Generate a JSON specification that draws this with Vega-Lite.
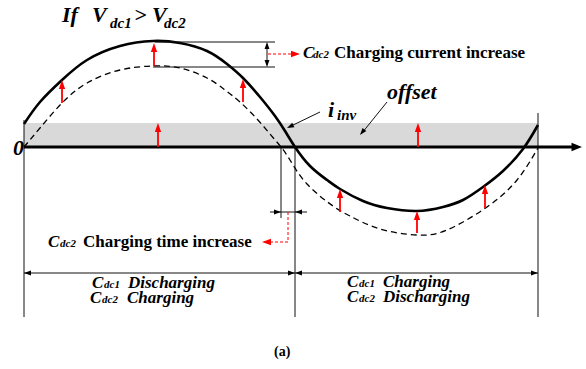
{
  "$schema": "https://vega.github.io/schema/vega-lite/v6.json",
  "width": 586,
  "height": 369,
  "padding": 0,
  "autosize": {"type": "none"},
  "background": "white",
  "config": {"view": {"stroke": null}},
  "datasets": {
    "band": [{"x": 0, "x2": 514, "y": 0, "y2": 24}],
    "curves": [
      {"curve": "ref", "x": 0, "y": 0}, {"curve": "ref", "x": 16, "y": 19}, {"curve": "ref", "x": 38, "y": 44}, {"curve": "ref", "x": 63, "y": 64},
      {"curve": "ref", "x": 96, "y": 77}, {"curve": "ref", "x": 129, "y": 81}, {"curve": "ref", "x": 156, "y": 79}, {"curve": "ref", "x": 183, "y": 69},
      {"curve": "ref", "x": 201, "y": 57}, {"curve": "ref", "x": 216, "y": 45}, {"curve": "ref", "x": 233, "y": 28}, {"curve": "ref", "x": 246, "y": 13},
      {"curve": "ref", "x": 257, "y": 0}, {"curve": "ref", "x": 266, "y": -13}, {"curve": "ref", "x": 283, "y": -37}, {"curve": "ref", "x": 309, "y": -59},
      {"curve": "ref", "x": 326, "y": -69}, {"curve": "ref", "x": 356, "y": -82}, {"curve": "ref", "x": 393, "y": -88}, {"curve": "ref", "x": 423, "y": -83},
      {"curve": "ref", "x": 463, "y": -60}, {"curve": "ref", "x": 493, "y": -33}, {"curve": "ref", "x": 514, "y": -1},
      {"curve": "iinv", "x": 0, "y": 23}, {"curve": "iinv", "x": 16, "y": 45}, {"curve": "iinv", "x": 38, "y": 67}, {"curve": "iinv", "x": 63, "y": 87},
      {"curve": "iinv", "x": 96, "y": 101}, {"curve": "iinv", "x": 129, "y": 106}, {"curve": "iinv", "x": 156, "y": 104}, {"curve": "iinv", "x": 183, "y": 96},
      {"curve": "iinv", "x": 203, "y": 83}, {"curve": "iinv", "x": 219, "y": 69}, {"curve": "iinv", "x": 236, "y": 50}, {"curve": "iinv", "x": 251, "y": 31},
      {"curve": "iinv", "x": 261, "y": 16}, {"curve": "iinv", "x": 271, "y": 0}, {"curve": "iinv", "x": 286, "y": -19}, {"curve": "iinv", "x": 303, "y": -33},
      {"curve": "iinv", "x": 316, "y": -42}, {"curve": "iinv", "x": 339, "y": -54}, {"curve": "iinv", "x": 363, "y": -61}, {"curve": "iinv", "x": 393, "y": -64},
      {"curve": "iinv", "x": 419, "y": -60}, {"curve": "iinv", "x": 439, "y": -53}, {"curve": "iinv", "x": 459, "y": -40}, {"curve": "iinv", "x": 479, "y": -24},
      {"curve": "iinv", "x": 499, "y": -2}, {"curve": "iinv", "x": 514, "y": 22}
    ],
    "segs": [
      {"k": "thin", "x": 0, "y": 27, "x2": 0, "y2": -170},
      {"k": "thin", "x": 257, "y": 0, "x2": 257, "y2": -71},
      {"k": "thin", "x": 271, "y": 0, "x2": 271, "y2": -170},
      {"k": "thin", "x": 514, "y": 34, "x2": 514, "y2": -170},
      {"k": "thin", "x": 131, "y": 105, "x2": 251, "y2": 105},
      {"k": "thin", "x": 129, "y": 80, "x2": 251, "y2": 80},
      {"k": "thin", "x": 243, "y": 103, "x2": 243, "y2": 82},
      {"k": "thin", "x": 0, "y": -126, "x2": 271, "y2": -126},
      {"k": "thin", "x": 271, "y": -126, "x2": 514, "y2": -126},
      {"k": "thin", "x": 246, "y": -65, "x2": 283, "y2": -65},
      {"k": "thin", "x": 296, "y": 35, "x2": 265, "y2": 20},
      {"k": "thin", "x": 363, "y": 45, "x2": 338, "y2": 14},
      {"k": "axis", "x": 0, "y": 0, "x2": 552, "y2": 0},
      {"k": "red", "x": 38, "y": 44, "x2": 38, "y2": 62},
      {"k": "red", "x": 130, "y": 81, "x2": 130, "y2": 99},
      {"k": "red", "x": 219, "y": 45, "x2": 219, "y2": 63},
      {"k": "red", "x": 316, "y": -65, "x2": 316, "y2": -47},
      {"k": "red", "x": 393, "y": -86, "x2": 393, "y2": -69},
      {"k": "red", "x": 461, "y": -61, "x2": 461, "y2": -43},
      {"k": "red", "x": 134, "y": 0, "x2": 134, "y2": 19},
      {"k": "red", "x": 394, "y": 0, "x2": 394, "y2": 19},
      {"k": "reddash", "x": 244, "y": 93, "x2": 272, "y2": 93},
      {"k": "reddash", "x": 264, "y": -65, "x2": 264, "y2": -95},
      {"k": "reddash", "x": 264, "y": -95, "x2": 242, "y2": -95}
    ],
    "heads": [
      {"k": "black", "x": 243, "y": 105, "a": 0},
      {"k": "black", "x": 243, "y": 80, "a": 180},
      {"k": "black", "x": 0, "y": -126, "a": 270},
      {"k": "black", "x": 271, "y": -126, "a": 90},
      {"k": "black", "x": 271, "y": -126, "a": 270},
      {"k": "black", "x": 514, "y": -126, "a": 90},
      {"k": "black", "x": 257, "y": -65, "a": 90},
      {"k": "black", "x": 271, "y": -65, "a": 270},
      {"k": "black", "x": 263, "y": 19, "a": 244},
      {"k": "black", "x": 336, "y": 12, "a": 219},
      {"k": "axis", "x": 558, "y": 0, "a": 90},
      {"k": "red", "x": 38, "y": 67, "a": 0},
      {"k": "red", "x": 130, "y": 104, "a": 0},
      {"k": "red", "x": 219, "y": 68, "a": 0},
      {"k": "red", "x": 316, "y": -42, "a": 0},
      {"k": "red", "x": 393, "y": -64, "a": 0},
      {"k": "red", "x": 461, "y": -38, "a": 0},
      {"k": "red", "x": 134, "y": 24, "a": 0},
      {"k": "red", "x": 394, "y": 24, "a": 0},
      {"k": "red", "x": 276, "y": 93, "a": 90},
      {"k": "red", "x": 238, "y": -95, "a": 270}
    ],
    "texts": [
      {"k": "big", "t": "If", "x": 38, "y": 125},
      {"k": "big", "t": "V", "x": 68, "y": 125},
      {"k": "bigsub", "t": "dc1", "x": 86, "y": 119},
      {"k": "big", "t": ">", "x": 110, "y": 125},
      {"k": "big", "t": "V", "x": 128, "y": 125},
      {"k": "bigsub", "t": "dc2", "x": 140, "y": 119},
      {"k": "big", "t": "0", "x": -11, "y": -8},
      {"k": "big", "t": "i", "x": 304, "y": 30},
      {"k": "bigsub", "t": "inv", "x": 313, "y": 27},
      {"k": "big", "t": "offset", "x": 363, "y": 48},
      {"k": "labeli", "t": "C", "x": 279, "y": 89},
      {"k": "sub", "t": "dc2", "x": 289, "y": 89},
      {"k": "label", "t": "Charging current increase", "x": 310, "y": 89},
      {"k": "labeli", "t": "C", "x": 24, "y": -100},
      {"k": "sub", "t": "dc2", "x": 36, "y": -100},
      {"k": "label", "t": "Charging time increase", "x": 59, "y": -100},
      {"k": "labeli", "t": "C", "x": 68, "y": -141},
      {"k": "sub", "t": "dc1", "x": 80, "y": -141},
      {"k": "labeli", "t": "Discharging", "x": 104, "y": -141},
      {"k": "labeli", "t": "C", "x": 66, "y": -156},
      {"k": "sub", "t": "dc2", "x": 78, "y": -156},
      {"k": "labeli", "t": "Charging", "x": 103, "y": -156},
      {"k": "labeli", "t": "C", "x": 323, "y": -140},
      {"k": "sub", "t": "dc1", "x": 335, "y": -140},
      {"k": "labeli", "t": "Charging", "x": 359, "y": -140},
      {"k": "labeli", "t": "C", "x": 323, "y": -155},
      {"k": "sub", "t": "dc2", "x": 335, "y": -155},
      {"k": "labeli", "t": "Discharging", "x": 359, "y": -155},
      {"k": "cap", "t": "(a)", "x": 250, "y": -209}
    ]
  },
  "encoding": {
    "x": {"field": "x", "type": "quantitative", "scale": {"domain": [-24, 562], "nice": false, "zero": false}, "axis": null},
    "y": {"field": "y", "type": "quantitative", "scale": {"domain": [-222, 147], "nice": false, "zero": false}, "axis": null}
  },
  "layer": [
    {"data": {"name": "band"}, "mark": {"type": "rect", "color": "#d9d9d9"},
     "encoding": {"x2": {"field": "x2"}, "y2": {"field": "y2"}}},
    {"data": {"name": "curves"}, "transform": [{"filter": "datum.curve === 'ref'"}],
     "mark": {"type": "line", "color": "black", "strokeWidth": 1.3, "strokeDash": [6, 4], "interpolate": "natural"},
     "encoding": {}},
    {"data": {"name": "curves"}, "transform": [{"filter": "datum.curve === 'iinv'"}],
     "mark": {"type": "line", "color": "black", "strokeWidth": 2.6, "interpolate": "natural"},
     "encoding": {}},
    {"data": {"name": "segs"}, "transform": [{"filter": "datum.k === 'thin'"}],
     "mark": {"type": "rule", "color": "#111", "strokeWidth": 1},
     "encoding": {"x2": {"field": "x2"}, "y2": {"field": "y2"}}},
    {"data": {"name": "segs"}, "transform": [{"filter": "datum.k === 'axis'"}],
     "mark": {"type": "rule", "color": "black", "strokeWidth": 2.8},
     "encoding": {"x2": {"field": "x2"}, "y2": {"field": "y2"}}},
    {"data": {"name": "segs"}, "transform": [{"filter": "datum.k === 'red'"}],
     "mark": {"type": "rule", "color": "#ff0000", "strokeWidth": 1.8},
     "encoding": {"x2": {"field": "x2"}, "y2": {"field": "y2"}}},
    {"data": {"name": "segs"}, "transform": [{"filter": "datum.k === 'reddash'"}],
     "mark": {"type": "rule", "color": "#ff0000", "strokeWidth": 1, "strokeDash": [3, 2]},
     "encoding": {"x2": {"field": "x2"}, "y2": {"field": "y2"}}},
    {"data": {"name": "heads"}, "transform": [{"filter": "datum.k === 'black'"}],
     "mark": {"type": "point", "shape": "M0,0L-0.7,2L0.7,2Z", "filled": true, "color": "black", "opacity": 1, "size": 49, "strokeWidth": 0},
     "encoding": {"angle": {"field": "a", "type": "quantitative", "scale": null}}},
    {"data": {"name": "heads"}, "transform": [{"filter": "datum.k === 'axis'"}],
     "mark": {"type": "point", "shape": "M0,0L-0.8,2L0.8,2Z", "filled": true, "color": "black", "opacity": 1, "size": 110, "strokeWidth": 0},
     "encoding": {"angle": {"field": "a", "type": "quantitative", "scale": null}}},
    {"data": {"name": "heads"}, "transform": [{"filter": "datum.k === 'red'"}],
     "mark": {"type": "point", "shape": "M0,0L-0.7,2L0.7,2Z", "filled": true, "color": "#ff0000", "opacity": 1, "size": 81, "strokeWidth": 0},
     "encoding": {"angle": {"field": "a", "type": "quantitative", "scale": null}}},
    {"data": {"name": "texts"}, "transform": [{"filter": "datum.k === 'big'"}],
     "mark": {"type": "text", "align": "left", "baseline": "alphabetic", "font": "'Times New Roman', 'Liberation Serif', 'DejaVu Serif', serif", "fontWeight": "bold", "fontStyle": "italic", "fontSize": 22, "color": "black"},
     "encoding": {"text": {"field": "t"}}},
    {"data": {"name": "texts"}, "transform": [{"filter": "datum.k === 'bigsub'"}],
     "mark": {"type": "text", "align": "left", "baseline": "alphabetic", "font": "'Times New Roman', 'Liberation Serif', 'DejaVu Serif', serif", "fontWeight": "bold", "fontStyle": "italic", "fontSize": 15, "color": "black"},
     "encoding": {"text": {"field": "t"}}},
    {"data": {"name": "texts"}, "transform": [{"filter": "datum.k === 'label'"}],
     "mark": {"type": "text", "align": "left", "baseline": "alphabetic", "font": "'Times New Roman', 'Liberation Serif', 'DejaVu Serif', serif", "fontWeight": "bold", "fontSize": 17, "color": "black"},
     "encoding": {"text": {"field": "t"}}},
    {"data": {"name": "texts"}, "transform": [{"filter": "datum.k === 'labeli'"}],
     "mark": {"type": "text", "align": "left", "baseline": "alphabetic", "font": "'Times New Roman', 'Liberation Serif', 'DejaVu Serif', serif", "fontWeight": "bold", "fontStyle": "italic", "fontSize": 17, "color": "black"},
     "encoding": {"text": {"field": "t"}}},
    {"data": {"name": "texts"}, "transform": [{"filter": "datum.k === 'sub'"}],
     "mark": {"type": "text", "align": "left", "baseline": "alphabetic", "font": "'Times New Roman', 'Liberation Serif', 'DejaVu Serif', serif", "fontWeight": "bold", "fontStyle": "italic", "fontSize": 11, "color": "black"},
     "encoding": {"text": {"field": "t"}}},
    {"data": {"name": "texts"}, "transform": [{"filter": "datum.k === 'cap'"}],
     "mark": {"type": "text", "align": "left", "baseline": "alphabetic", "font": "'Times New Roman', 'Liberation Serif', 'DejaVu Serif', serif", "fontWeight": "bold", "fontSize": 14, "color": "black"},
     "encoding": {"text": {"field": "t"}}}
  ]
}
